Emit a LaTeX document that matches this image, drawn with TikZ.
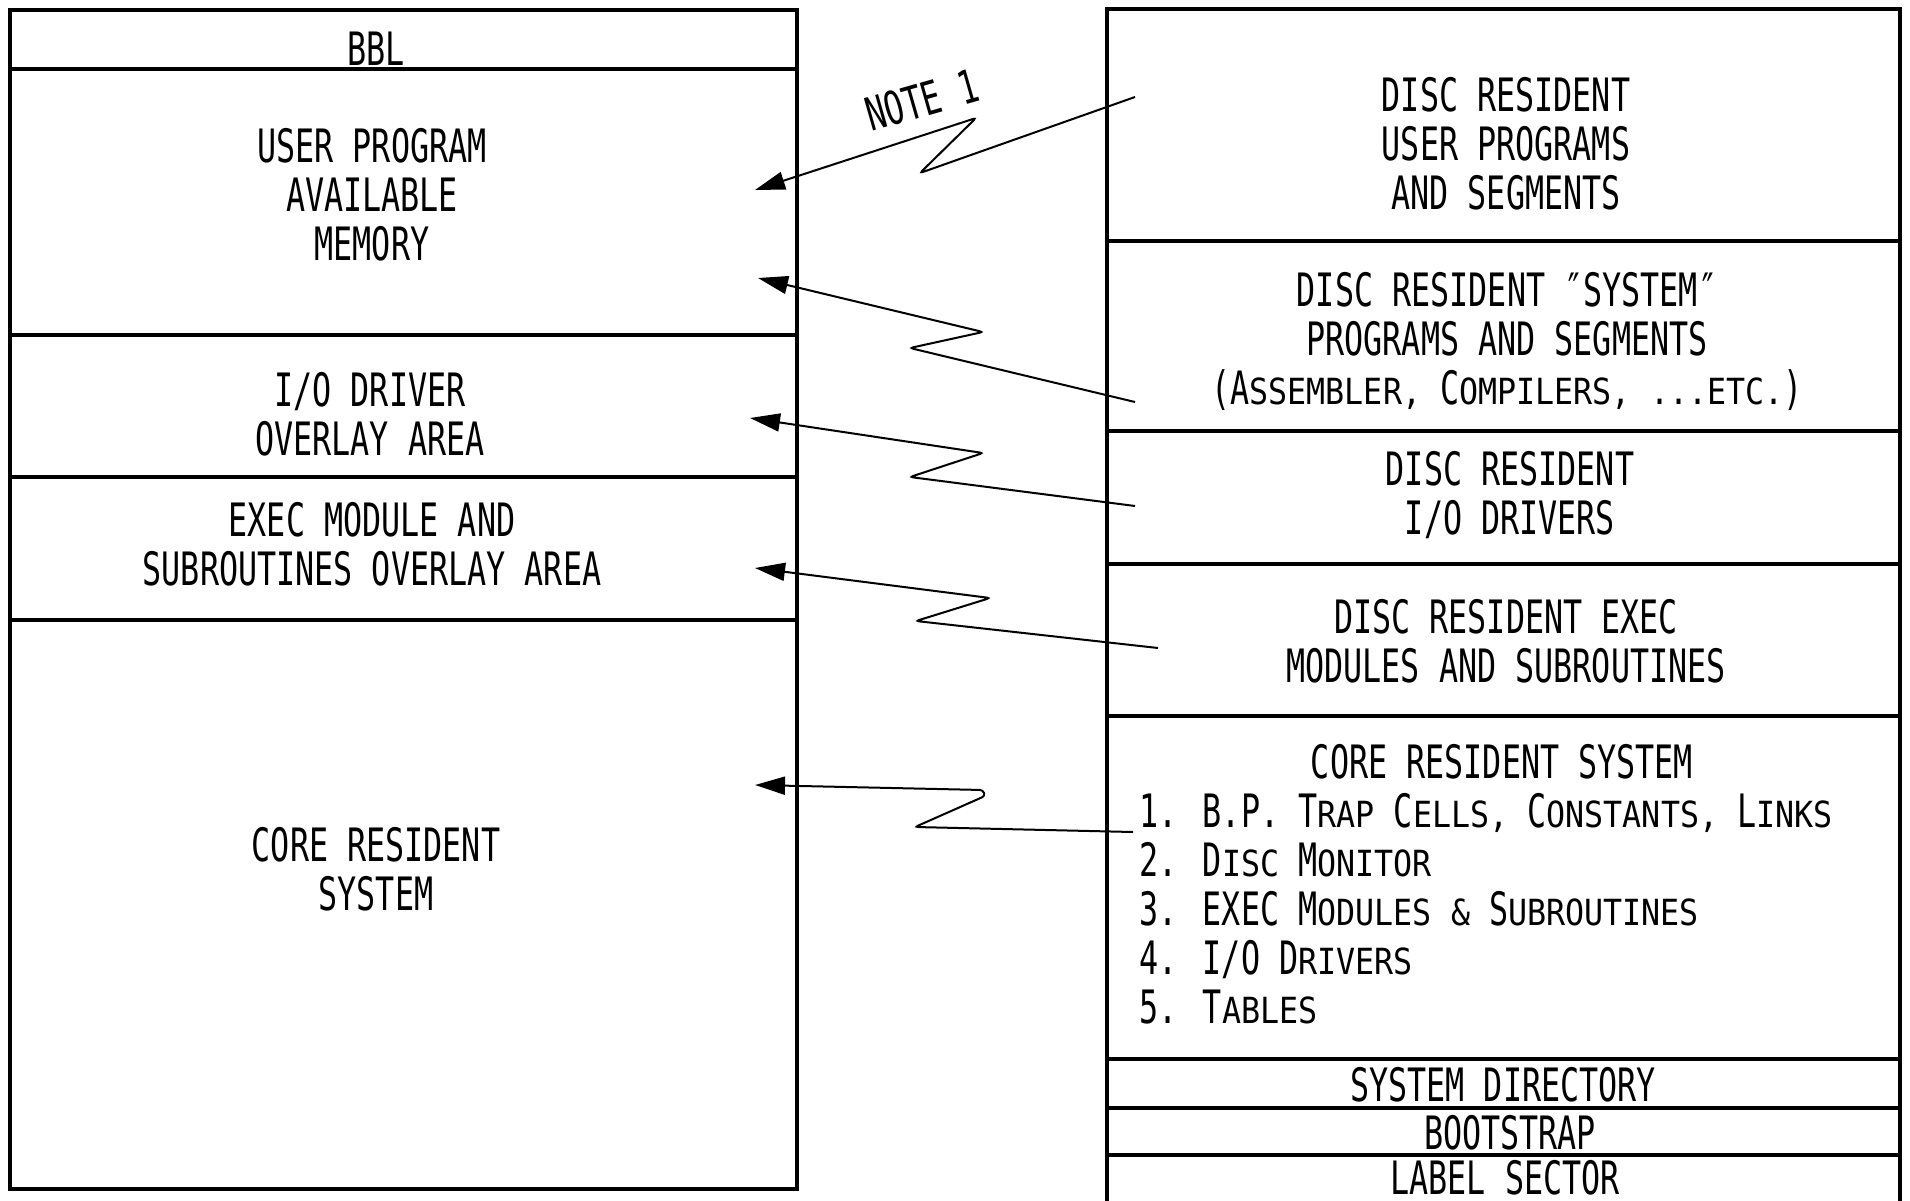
\documentclass[tikz,border=0pt]{standalone}
\usepackage{fontspec}
\setmainfont{DejaVu Sans Mono}[FakeStretch=0.69]
\newfontfamily\scfont{DejaVu Sans Mono}[FakeStretch=0.88]
\newcommand\smc[1]{{\scfont\fontsize{36}{49}\selectfont #1}}
\usetikzlibrary{arrows.meta}
\begin{document}
\begin{tikzpicture}[x=1pt,y=-1pt,
  box/.style={line width=3.5pt},
  txt/.style={font=\fontsize{46}{49}\selectfont, align=center, inner sep=0pt},
  arr/.style={line width=2pt, rounded corners=3pt, -{Triangle[length=30pt,width=18pt]}}]
\useasboundingbox (0,0) rectangle (1910,1201);
% left column
\draw[box] (10,10) rectangle (797,1189);
\foreach \y in {69,335,477,620} \draw[box] (10,\y) -- (797,\y);
% right column
\draw[box] (1107,1201) -- (1107,9) -- (1900,9) -- (1900,1201);
\foreach \y in {241,431,564,716,1059,1108,1155} \draw[box] (1107,\y) -- (1900,\y);

% left texts
\node[txt] (bbl) at (376,49) {BBL};
\node[txt] (upam) at (372,195) {USER PROGRAM\\AVAILABLE\\MEMORY};
\node[txt] (iod) at (370,414) {I/O DRIVER\\OVERLAY AREA};
\node[txt] (exec) at (372,544) {EXEC MODULE AND\\SUBROUTINES OVERLAY AREA};
\node[txt] (crs) at (376,869) {CORE RESIDENT\\SYSTEM};

% right texts
\node[txt] (drup) at (1506,144) {DISC RESIDENT\\USER PROGRAMS\\AND SEGMENTS};
\node[txt] (drsys) at (1507,341) {DISC RESIDENT ″SYSTEM″\\ PROGRAMS AND SEGMENTS\\(A\smc{SSEMBLER, }C\smc{OMPILERS, ...ETC.})};
\node[txt] (drio) at (1510,495) {DISC RESIDENT\\I/O DRIVERS};
\node[txt] (drexec) at (1506,641) {DISC RESIDENT EXEC\\MODULES AND SUBROUTINES};
\node[txt] (crs2) at (1502,762) {CORE RESIDENT SYSTEM};
\node[txt, align=left, anchor=west] (list) at (1139,909) {1. B.P. T\smc{RAP} C\smc{ELLS,} C\smc{ONSTANTS,} L\smc{INKS}\\
2. D\smc{ISC} M\smc{ONITOR}\\
3. EXEC M\smc{ODULES \& }S\smc{UBROUTINES}\\
4. I/O D\smc{RIVERS}\\
5. T\smc{ABLES}};
\node[txt] (sysdir) at (1503,1085) {SYSTEM DIRECTORY};
\node[txt] (boot) at (1510,1133) {BOOTSTRAP};
\node[txt] (label) at (1505,1178) {LABEL SECTOR};

% note
\node[txt, rotate=16] (note) at (922,100) {NOTE 1};

% connector end points
\coordinate (s1) at (1135,97);  \coordinate (t1) at (755,190);
\coordinate (s2) at (1135,402); \coordinate (t2) at (758,278);
\coordinate (s3) at (1135,506); \coordinate (t3) at (750,418);
\coordinate (s4) at (1158,648); \coordinate (t4) at (755,568);
\coordinate (s5) at (1133,832); \coordinate (t5) at (755,785);

\draw[arr] (s1) -- (920,173) -- (976,118) -- (t1);
\draw[arr] (s2) -- (910,348) -- (983,332) -- (t2);
\draw[arr] (s3) -- (910,477) -- (983,453) -- (t3);
\draw[arr] (s4) -- (916,621) -- (990,598) -- (t4);
\draw[arr] (s5) -- (915,827) -- (985,796) -- (983,790) -- (t5);
\end{tikzpicture}
\end{document}
